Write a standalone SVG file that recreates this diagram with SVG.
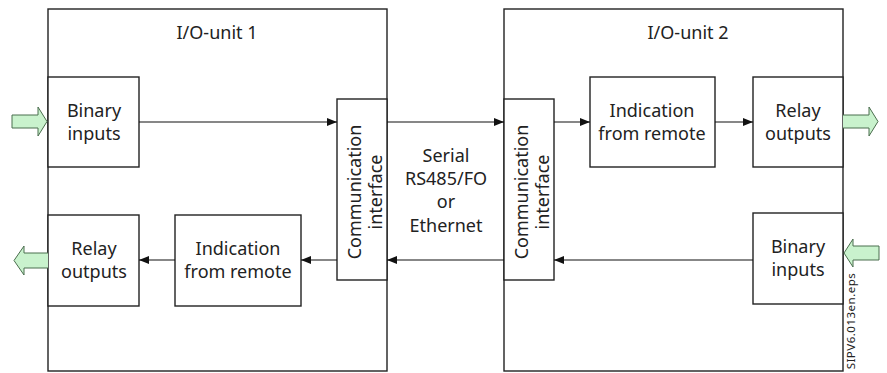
<svg xmlns="http://www.w3.org/2000/svg" width="887" height="373" viewBox="0 0 887 373">
<defs>
<style>
.box{fill:#fff;stroke:#222;stroke-width:1.4}
.unit{fill:none;stroke:#222;stroke-width:1.4}
.t{font-family:"Noto Sans","Open Sans",sans-serif;font-size:18px;fill:#222;text-anchor:middle}
.small{font-family:"Noto Sans","Open Sans",sans-serif;font-size:11.5px;letter-spacing:0.5px;fill:#222;text-anchor:middle}
.ln{stroke:#111;stroke-width:1.1;fill:none;marker-end:url(#ah)}
.g{fill:#c9f2cd;stroke:#4b6e4e;stroke-width:1}
</style>
<marker id="ah" markerWidth="10" markerHeight="8" refX="10" refY="4" orient="auto" markerUnits="userSpaceOnUse">
<path d="M0,0 L10,4 L0,8 Z" fill="#111"/>
</marker>
</defs>
<g id="unit1">
<rect class="unit" x="48" y="9" width="339" height="362"/>
<text class="t" x="217" y="39">I/O-unit 1</text>
</g>
<g id="unit2">
<rect class="unit" x="504" y="9" width="339" height="362"/>
<text class="t" x="688" y="39">I/O-unit 2</text>
</g>
<g id="binary1">
<rect class="box" x="48" y="77" width="91" height="90"/>
<text class="t" x="94" y="117">Binary</text>
<text class="t" x="94" y="140">inputs</text>
</g>
<g id="comm1">
<rect class="box" x="337" y="99" width="50" height="181"/>
<text class="t" transform="translate(361,192) rotate(-90)">Communication</text>
<text class="t" transform="translate(382,192) rotate(-90)">interface</text>
</g>
<g id="relay1">
<rect class="box" x="48" y="215" width="91" height="91"/>
<text class="t" x="94" y="255">Relay</text>
<text class="t" x="94" y="278">outputs</text>
</g>
<g id="ind1">
<rect class="box" x="175" y="215" width="126" height="91"/>
<text class="t" x="238" y="255">Indication</text>
<text class="t" x="238" y="278">from remote</text>
</g>
<g id="comm2">
<rect class="box" x="504" y="99" width="50" height="181"/>
<text class="t" transform="translate(528,192) rotate(-90)">Communication</text>
<text class="t" transform="translate(549,192) rotate(-90)">interface</text>
</g>
<g id="ind2">
<rect class="box" x="590" y="77" width="125" height="90"/>
<text class="t" x="652" y="117">Indication</text>
<text class="t" x="652" y="140">from remote</text>
</g>
<g id="relay2">
<rect class="box" x="753" y="77" width="90" height="90"/>
<text class="t" x="798" y="117">Relay</text>
<text class="t" x="798" y="140">outputs</text>
</g>
<g id="binary2">
<rect class="box" x="753" y="213" width="90" height="91"/>
<text class="t" x="798" y="253">Binary</text>
<text class="t" x="798" y="276">inputs</text>
</g>
<g id="medium">
<text class="t" x="446" y="162">Serial</text>
<text class="t" x="446" y="185">RS485/FO</text>
<text class="t" x="446" y="208">or</text>
<text class="t" x="446" y="232">Ethernet</text>
</g>
<g id="connectors">
<line class="ln" x1="139" y1="122" x2="337" y2="122"/>
<line class="ln" x1="387" y1="122" x2="504" y2="122"/>
<line class="ln" x1="554" y1="122" x2="590" y2="122"/>
<line class="ln" x1="715" y1="122" x2="753" y2="122"/>
<line class="ln" x1="753" y1="260" x2="554" y2="260"/>
<line class="ln" x1="504" y1="260" x2="387" y2="260"/>
<line class="ln" x1="337" y1="260" x2="301" y2="260"/>
<line class="ln" x1="175" y1="260" x2="139" y2="260"/>
</g>
<g id="io-arrows">
<path class="g" d="M12,115 L38,115 L38,107 L47,121.5 L38,136 L38,128 L12,128 Z"/>
<path class="g" d="M48,253 L24,253 L24,246 L14,260.5 L24,275 L24,268 L48,268"/>
<path class="g" d="M843,115 L869,115 L869,107 L878,121.5 L869,136 L869,128 L843,128"/>
<path class="g" d="M879,246 L853,246 L853,239 L844,253 L853,267 L853,260 L879,260 Z"/>
</g>
<g id="label">
<text class="small" transform="translate(855,321) rotate(-90)">SIPV6.013en.eps</text>
</g>
</svg>
